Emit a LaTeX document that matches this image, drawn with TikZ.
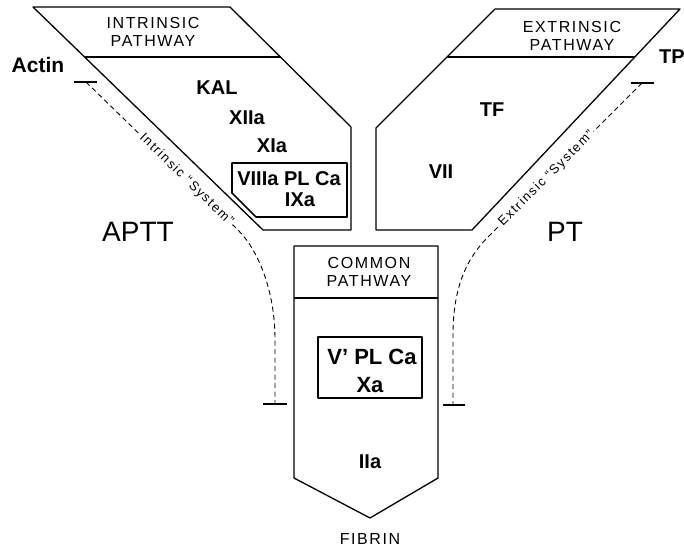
\documentclass[tikz,border=0pt]{standalone}
\usepackage{fontspec}
\setmainfont{Liberation Sans}
\newfontfamily\spacedfont[LetterSpace=10]{Liberation Sans}
\newfontfamily\sysfont[LetterSpace=12]{Liberation Sans}

\begin{document}
\begin{tikzpicture}[x=1pt, y=-1pt,
		box/.style={line width=1.3pt, line join=round},
		inbox/.style={line width=1.6pt, line join=round},
		hdr/.style={font=\spacedfont\fontsize{16}{18.5}\selectfont, align=center},
		fac/.style={font=\bfseries\fontsize{20}{22}\selectfont},
		big/.style={font=\fontsize{28}{30}\selectfont},
		sys/.style={font=\sysfont\fontsize{13}{15}\selectfont, sloped, fill=white, inner sep=1.5pt},
		sysline/.style={line width=0.9pt, dash pattern=on 5pt off 3.5pt},
		tee/.style={line width=1.2pt}
	]
		\useasboundingbox (0,0) rectangle (684,549);

		\coordinate (itop) at (86,82);
		\coordinate (ibend) at (238,230);
		\coordinate (ibot) at (275,404);
		\coordinate (etop) at (642,83);
		\coordinate (ebend) at (488,237);
		\coordinate (ebot) at (453,405);

		\draw[sysline] (itop) -- node[sys, pos=0.66] {Intrinsic “System”} (ibend)
			.. controls (258,250) and (275,290) .. (275,340) -- (ibot);
		\draw[sysline] (etop) -- node[sys, pos=0.62] {Extrinsic “System”} (ebend)
			.. controls (465,260) and (453,290) .. (453,335) -- (ebot);
		\draw[tee] ([xshift=-12]itop) -- ([xshift=11]itop);
		\draw[tee] ([xshift=-12]ibot) -- ([xshift=12]ibot);
		\draw[tee] ([xshift=-11]etop) -- ([xshift=12]etop);
		\draw[tee] ([xshift=-10]ebot) -- ([xshift=12]ebot);

		\draw[box] (33,7) -- (230,7) -- (351,127) -- (351,230) -- (263,230) -- cycle;
		\draw[box] (85,57) -- (281,57);
		\draw[inbox] (232,163) -- (347,163) -- (347,217) -- (256,217) -- (232,193) -- cycle;

		\draw[box] (495,9) -- (680,9) -- (472,230) -- (376,230) -- (376,128) -- cycle;
		\draw[box] (447,57) -- (635,57);

		\draw[box] (294,246) -- (438,246) -- (438,478) -- (370,518) -- (294,478) -- cycle;
		\draw[box] (294,298) -- (438,298);
		\draw[inbox] (318,337) rectangle (422,398);

		\node[hdr] (ihdr) at (153,32) {INTRINSIC\\PATHWAY};
		\node[hdr] (ehdr) at (572,36) {EXTRINSIC\\PATHWAY};
		\node[hdr] (chdr) at (369,272) {COMMON\\PATHWAY};
		\node[hdr] (fibrin) at (370,539) {FIBRIN};

		\node[fac, font=\bfseries\fontsize{21}{23}\selectfont] (actin) at (38,65) {Actin};
		\node[fac] (kal) at (217,88) {KAL};
		\node[fac] (xiia) at (247,118) {XIIa};
		\node[fac] (xia) at (272,146) {XIa};
		\node[fac] (viiia) at (289,179) {VIIIa PL Ca};
		\node[fac] (ixa) at (300,200) {IXa};

		\node[fac] (tp) at (672,57) {TP};
		\node[fac] (tf) at (492,110) {TF};
		\node[fac] (vii) at (441,172) {VII};

		\node[fac, font=\bfseries\fontsize{22}{24}\selectfont] (va) at (372,357) {V' PL Ca};
		\node[fac, font=\bfseries\fontsize{22}{24}\selectfont] (xa) at (370,385) {Xa};
		\node[fac] (iia) at (370,462) {IIa};

		\node[big] (aptt) at (138,232) {APTT};
		\node[big] (pt) at (565,232) {PT};
	\end{tikzpicture}
\end{document}
